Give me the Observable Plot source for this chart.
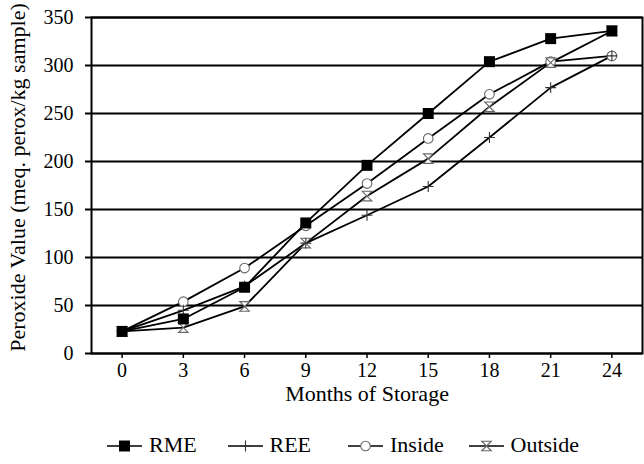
<!DOCTYPE html>
<html><head><meta charset="utf-8">
<script src="https://cdn.jsdelivr.net/npm/d3@7"></script>
<script src="https://cdn.jsdelivr.net/npm/@observablehq/plot@0.6"></script>
<style>
body{margin:0;background:#fff;font-family:"Liberation Serif","Times New Roman",Times,"DejaVu Serif",serif;color:#000;}
#chart svg{display:block}
.legend{display:flex;margin-left:107px;height:24px;line-height:24px;font-size:22px;}
.item{width:120.5px;display:flex;align-items:center;white-space:nowrap}
.item svg{margin-right:7px;display:block}
</style></head><body><div id="chart"></div><div class="legend" id="legend"></div>
<script>
const months = [0, 3, 6, 9, 12, 15, 18, 21, 24];
const seriesNames = ["RME", "REE", "Inside", "Outside"];
const rme = [23, 36, 69, 136, 196, 250, 304, 328, 336];
const ree = [23, 45, 70, 115, 144, 174, 225, 277, 310];
const inside = [23, 54, 89, 133, 177, 224, 270, 304, 310];
const outside = [23, 27, 49, 115, 164, 203, 257, 303, 336];
const yTicks = [0, 50, 100, 150, 200, 250, 300, 350];
const xTitle = "Months of Storage";
const yTitle = "Peroxide Value (meq. perox/kg sample)";

const FONT = '"Liberation Serif", "Times New Roman", Times, "DejaVu Serif", serif';
const values = {RME: rme, REE: ree, Inside: inside, Outside: outside};
const data = seriesNames.flatMap(s => months.map((m, i) => ({series: s, month: m, value: values[s][i]})));
const hourglass = {draw(ctx, size) {const r = Math.sqrt(size) / 2; ctx.moveTo(-r, -r); ctx.lineTo(r, -r); ctx.lineTo(-r, r); ctx.lineTo(r, r); ctx.closePath();}};
const styles = {
  RME: {symbol: "square", r: 6.2, fill: "black", stroke: "none"},
  REE: {symbol: "plus", r: 3.6, fill: "none", stroke: "#333", strokeWidth: 1.1},
  Inside: {symbol: "circle", r: 4.8, fill: "white", stroke: "#666", strokeWidth: 1.1},
  Outside: {symbol: hourglass, r: 5.4, fill: "white", stroke: "#666", strokeWidth: 1.1}
};
const dotFor = s => Plot.dot(data.filter(d => d.series === s), {x: "month", y: "value", ...styles[s]});

const chart = Plot.plot({
  width: 644, height: 433,
  marginTop: 17, marginBottom: 80, marginLeft: 91, marginRight: 2,
  style: {fontFamily: FONT, fontSize: "20px", color: "black", background: "white"},
  x: {domain: [-1.5, 25.5]},
  y: {domain: [0, 350]},
  marks: [
    Plot.ruleY(yTicks, {stroke: "black", strokeWidth: 2}),
    Plot.axisY(yTicks, {tickSize: 6, tickPadding: 12, strokeWidth: 2, label: null, fontFamily: FONT}),
    Plot.axisX(months, {tickSize: 5, tickPadding: 4, strokeWidth: 1.5, label: null, fontFamily: FONT}),
    Plot.line(data, {x: "month", y: "value", z: "series", stroke: "black", strokeWidth: 1.8}),
    dotFor("Inside"), dotFor("Outside"), dotFor("REE"), dotFor("RME"),
    Plot.frame({stroke: "black", strokeWidth: 2}),
    Plot.text([xTitle], {text: d => d, frameAnchor: "bottom", dy: 40, fontSize: 22, textAnchor: "middle", lineAnchor: "middle", fontFamily: FONT}),
    Plot.text([yTitle], {text: d => d, frameAnchor: "left", rotate: -90, dx: -74, dy: -8, fontSize: 22, textAnchor: "middle", lineAnchor: "middle", fontFamily: FONT})
  ]
});
document.getElementById("chart").append(chart);

const legend = d3.select("#legend");
seriesNames.forEach(s => {
  const item = legend.append("div").attr("class", "item");
  const svg = item.append("svg").attr("width", 35).attr("height", 16);
  svg.append("line").attr("x1", 0).attr("x2", 35).attr("y1", 9).attr("y2", 9).attr("stroke", "black").attr("stroke-width", 1.7);
  const st = styles[s];
  const type = st.symbol === "square" ? d3.symbolSquare : st.symbol === "plus" ? d3.symbolPlus : st.symbol === "circle" ? d3.symbolCircle : hourglass;
  svg.append("path").attr("transform", "translate(17.5,9)")
    .attr("d", d3.symbol(type, st.r * st.r * Math.PI)())
    .attr("fill", st.fill).attr("stroke", st.stroke).attr("stroke-width", st.strokeWidth || 0);
  item.append("span").text(s);
});
</script></body></html>
